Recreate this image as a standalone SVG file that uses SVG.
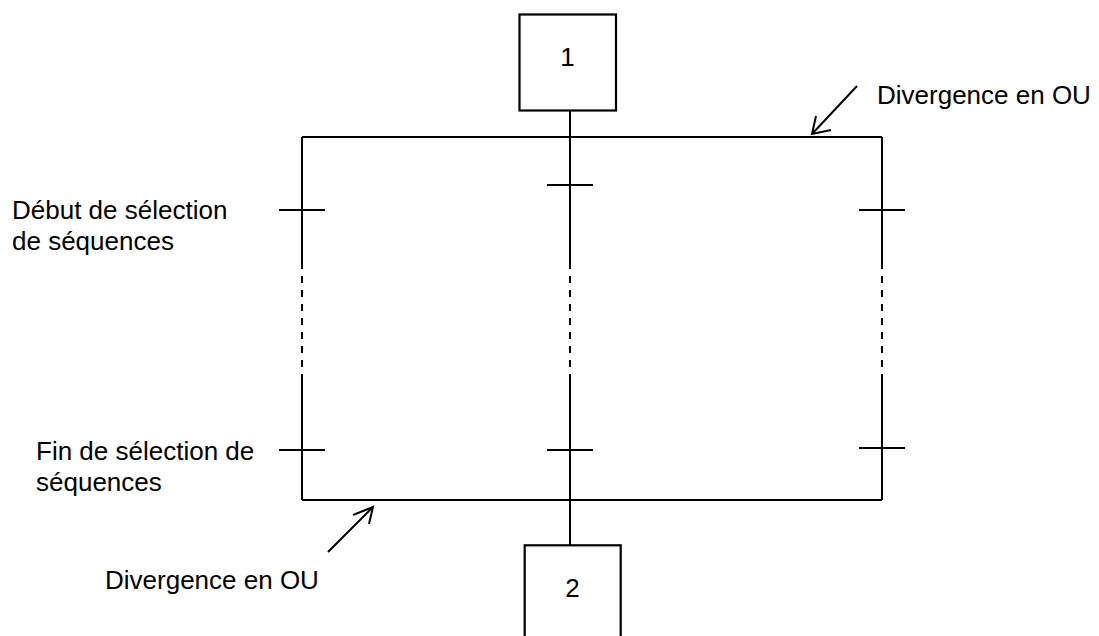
<svg xmlns="http://www.w3.org/2000/svg" width="1099" height="636" viewBox="0 0 1099 636">
<style>
.ln{stroke:#000;stroke-width:2;fill:none}
.dash{stroke:#000;stroke-width:2;fill:none;stroke-dasharray:7 7}
.box{stroke:#000;stroke-width:2.2;fill:#fff}
.t{font-family:"Liberation Sans",Arial,sans-serif;font-size:26px;fill:#000}
</style>
<rect width="1099" height="636" fill="#fff"/>
<g id="connectors">
<path class="ln" d="M570,110 V262 M570,376 V545"/>
<path class="dash" d="M570,262 V376"/>
<path class="ln" d="M302,137 H882 M302,500 H882"/>
<path class="ln" d="M302,137 V262 M302,376 V500"/>
<path class="dash" d="M302,262 V376"/>
<path class="ln" d="M882,137 V262 M882,376 V500"/>
<path class="dash" d="M882,262 V376"/>
<path class="ln" d="M279,210 H325 M547,185 H593 M859,210 H905"/>
<path class="ln" d="M279,450 H325 M547,450 H593 M859,448 H905"/>
<path class="ln" d="M857,86 L812,134 M816,116 L812,134 L831,130"/>
<path class="ln" d="M328,552 L373,507 M353,515 L373,507 L369,524"/>
</g>
<g id="step1">
<rect class="box" x="519.5" y="14.5" width="96.5" height="96"/>
<text class="t" x="567.5" y="66" text-anchor="middle">1</text>
</g>
<g id="step2">
<rect class="box" x="524.7" y="545.3" width="96" height="110"/>
<text class="t" x="572.5" y="597" text-anchor="middle">2</text>
</g>
<g id="label-divergence-top">
<text class="t" x="877" y="104">Divergence en OU</text>
</g>
<g id="label-debut">
<text class="t" x="12" y="219">Début de sélection</text>
<text class="t" x="12" y="250">de séquences</text>
</g>
<g id="label-fin">
<text class="t" x="36" y="460">Fin de sélection de</text>
<text class="t" x="36" y="491">séquences</text>
</g>
<g id="label-divergence-bottom">
<text class="t" x="105" y="589">Divergence en OU</text>
</g>
</svg>
